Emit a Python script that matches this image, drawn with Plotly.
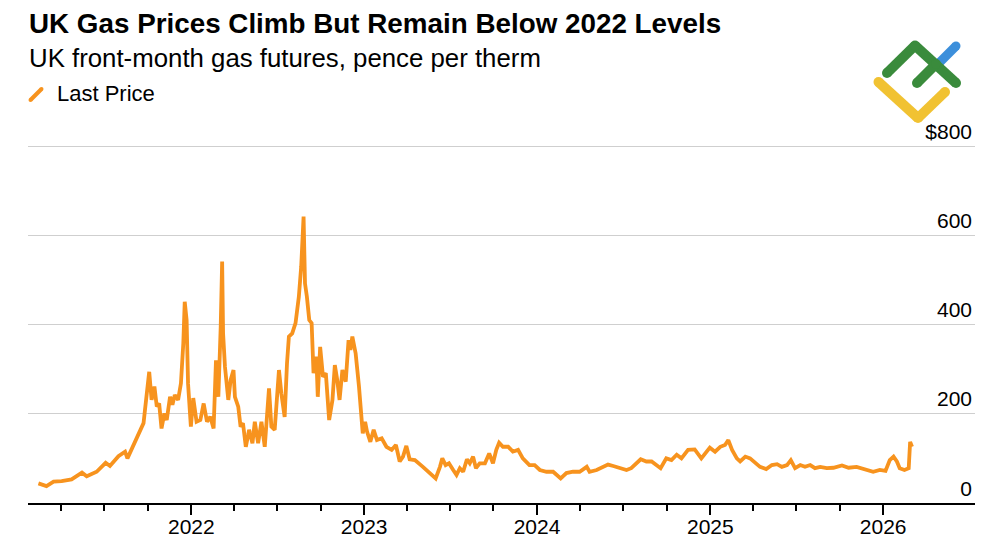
import plotly.graph_objects as go

# ---------------- data ----------------
dates = [
    "2021-02-12", "2021-03-01", "2021-03-16", "2021-04-02", "2021-04-23", "2021-05-15",
    "2021-05-25", "2021-06-15", "2021-07-04", "2021-07-13", "2021-07-31", "2021-08-14",
    "2021-08-19", "2021-09-02", "2021-09-15", "2021-09-22", "2021-09-25", "2021-09-30",
    "2021-10-04", "2021-10-09", "2021-10-15", "2021-10-20", "2021-10-25", "2021-10-30",
    "2021-11-05", "2021-11-10", "2021-11-17", "2021-11-22", "2021-11-27", "2021-12-04",
    "2021-12-10", "2021-12-15", "2021-12-18", "2021-12-22", "2021-12-25", "2021-12-31",
    "2022-01-05", "2022-01-12", "2022-01-20", "2022-01-27", "2022-02-03", "2022-02-10",
    "2022-02-17", "2022-02-22", "2022-02-27", "2022-03-04", "2022-03-07", "2022-03-09",
    "2022-03-13", "2022-03-20", "2022-03-25", "2022-03-31", "2022-04-03", "2022-04-10",
    "2022-04-15", "2022-04-20", "2022-04-26", "2022-05-03", "2022-05-10", "2022-05-15",
    "2022-05-22", "2022-05-29", "2022-06-05", "2022-06-14", "2022-06-19", "2022-06-26",
    "2022-07-05", "2022-07-10", "2022-07-17", "2022-07-22", "2022-07-26", "2022-08-02",
    "2022-08-09", "2022-08-16", "2022-08-21", "2022-08-26", "2022-08-29", "2022-09-02",
    "2022-09-07", "2022-09-12", "2022-09-16", "2022-09-22", "2022-09-25", "2022-09-30",
    "2022-10-06", "2022-10-12", "2022-10-19", "2022-10-26", "2022-10-31", "2022-11-05",
    "2022-11-10", "2022-11-16", "2022-11-23", "2022-11-29", "2022-12-03", "2022-12-07",
    "2022-12-14", "2022-12-21", "2022-12-26", "2022-12-29", "2023-01-03", "2023-01-07",
    "2023-01-14", "2023-01-21", "2023-01-28", "2023-02-07", "2023-02-17", "2023-02-28",
    "2023-03-09", "2023-03-17", "2023-03-24", "2023-03-31", "2023-04-07", "2023-04-18",
    "2023-05-05", "2023-05-20", "2023-06-01", "2023-06-10", "2023-06-15", "2023-06-22",
    "2023-06-29", "2023-07-08", "2023-07-15", "2023-07-22", "2023-07-29", "2023-08-06",
    "2023-08-12", "2023-08-19", "2023-08-25", "2023-09-02", "2023-09-13", "2023-09-22",
    "2023-09-30", "2023-10-07", "2023-10-13", "2023-10-21", "2023-11-01", "2023-11-11",
    "2023-11-22", "2023-12-02", "2023-12-16", "2023-12-27", "2024-01-07", "2024-01-21",
    "2024-02-04", "2024-02-20", "2024-03-03", "2024-03-17", "2024-03-31", "2024-04-15",
    "2024-04-21", "2024-05-06", "2024-05-20", "2024-05-30", "2024-06-10", "2024-06-24",
    "2024-07-08", "2024-07-18", "2024-07-29", "2024-08-07", "2024-08-19", "2024-08-30",
    "2024-09-09", "2024-09-18", "2024-09-30", "2024-10-11", "2024-10-22", "2024-11-01",
    "2024-11-15", "2024-11-29", "2024-12-13", "2024-12-24", "2024-12-31", "2025-01-11",
    "2025-01-22", "2025-02-01", "2025-02-08", "2025-02-16", "2025-02-26", "2025-03-05",
    "2025-03-16", "2025-03-26", "2025-04-06", "2025-04-16", "2025-04-29", "2025-05-11",
    "2025-05-22", "2025-06-01", "2025-06-12", "2025-06-20", "2025-06-29", "2025-07-10",
    "2025-07-20", "2025-07-31", "2025-08-10", "2025-08-21", "2025-09-04", "2025-09-18",
    "2025-10-06", "2025-10-20", "2025-11-06", "2025-11-16", "2025-11-30", "2025-12-11",
    "2025-12-25", "2026-01-06", "2026-01-15", "2026-01-23", "2026-01-30", "2026-02-05",
    "2026-02-15", "2026-02-24", "2026-02-27", "2026-03-03",
]
prices = [
    44, 38, 48, 49, 53, 68,
    60, 70, 90, 83, 105, 115,
    100, 134, 164, 179, 208, 249,
    294, 231, 261, 216, 223, 167,
    201, 186, 238, 220, 242, 231,
    268, 358, 451, 410, 268, 171,
    235, 182, 186, 223, 182, 193,
    167, 320, 238, 395, 541, 380,
    305, 231, 276, 298, 238, 216,
    171, 179, 126, 164, 134, 182,
    134, 182, 126, 257, 171, 164,
    298, 246, 193, 313, 373, 380,
    403, 462, 530, 642, 492, 462,
    410, 403, 291, 328, 238, 350,
    283, 291, 186, 231, 309, 276,
    231, 298, 272, 365, 343, 373,
    335, 261, 201, 156, 182, 160,
    137, 164, 141, 145, 126, 119,
    130, 93, 104, 128, 98, 96,
    81, 67, 55, 81, 100, 85,
    89, 74, 63, 78, 70, 98,
    89, 104, 78, 89, 89, 111,
    89, 119, 135, 126, 126, 115,
    119, 100, 85, 85, 74, 70,
    70, 55, 67, 70, 70, 81,
    70, 74, 81, 86, 83, 79,
    74, 78, 89, 98, 93, 93,
    85, 78, 100, 96, 108, 100,
    119, 120, 100, 115, 124, 115,
    126, 130, 141, 119, 100, 93,
    104, 100, 89, 81, 76, 85,
    87, 81, 85, 96, 78, 85,
    81, 85, 78, 81, 78, 79,
    84, 79, 81, 78, 72, 70,
    74, 72, 96, 104, 93, 78,
    74, 78, 137, 126,
]

year_ticks = ["2022-01-01", "2023-01-01", "2024-01-01", "2025-01-01", "2026-01-01"]
year_labels = ["2022", "2023", "2024", "2025", "2026"]
quarter_ticks = [
    "2021-04-01", "2021-07-01", "2021-10-01",
    "2022-04-01", "2022-07-01", "2022-10-01",
    "2023-04-01", "2023-07-01", "2023-10-01",
    "2024-04-01", "2024-07-01", "2024-10-01",
    "2025-04-01", "2025-07-01", "2025-10-01",
]
y_ticks = [0, 200, 400, 600, 800]
y_labels = ["0", "200", "400", "600", "$800"]
x_range = ["2021-01-21", "2026-07-14"]
y_range = [0, 860.5]

title_text = "UK Gas Prices Climb But Remain Below 2022 Levels"
subtitle_text = "UK front-month gas futures, pence per therm"
series_name = "Last Price"

# ---------------- styling ----------------
ORANGE = "#F7931E"
FONT = "Liberation Sans, Arial, Helvetica, sans-serif"
W, H = 1000, 545
L, R, T, B = 28, 25, 119, 42
PW, PH = W - L - R, H - T - B


def px(X):
    return (X - L) / PW


def py(Y):
    return (H - B - Y) / PH


fig = go.Figure()
fig.add_trace(go.Scatter(
    x=dates, y=prices, mode="lines", name=series_name,
    line=dict(color=ORANGE, width=3.8), showlegend=False,
))

shapes = []


def stroke(points, color, width):
    for (x0, y0), (x1, y1) in zip(points[:-1], points[1:]):
        shapes.append(dict(type="line", xref="paper", yref="paper",
                           x0=px(x0), y0=py(y0), x1=px(x1), y1=py(y1),
                           line=dict(color=color, width=width), layer="above"))
    r = width / 2.0
    for (x, y) in points:
        shapes.append(dict(type="circle", xref="paper", yref="paper",
                           x0=px(x - r), x1=px(x + r), y0=py(y + r), y1=py(y - r),
                           fillcolor=color, line=dict(width=0), layer="above"))


# legend icon
stroke([(30.5, 100), (41.5, 89)], ORANGE, 4)

# logo
BLUE, GREEN, YELLOW = "#3C8FDB", "#3A8B3C", "#F1C232"
stroke([(956, 46), (939, 63)], BLUE, 9)
stroke([(878.5, 82), (918, 118), (945, 92)], YELLOW, 10)
stroke([(887, 73), (915, 45.5), (956, 83)], GREEN, 10)
stroke([(917, 83), (936, 64)], GREEN, 10)

annotations = [
    dict(text="<b>%s</b>" % title_text, x=px(27), y=py(23.5), xref="paper", yref="paper",
         xanchor="left", yanchor="middle", showarrow=False,
         font=dict(family=FONT, size=27.8, color="#000000")),
    dict(text=subtitle_text, x=px(27), y=py(57.5), xref="paper", yref="paper",
         xanchor="left", yanchor="middle", showarrow=False,
         font=dict(family=FONT, size=25.8, color="#000000")),
    dict(text=series_name, x=px(55), y=py(93.5), xref="paper", yref="paper",
         xanchor="left", yanchor="middle", showarrow=False,
         font=dict(family=FONT, size=22, color="#000000")),
]

fig.update_layout(
    width=W, height=H,
    margin=dict(l=L, r=R, t=T, b=B, pad=0, autoexpand=False),
    paper_bgcolor="white", plot_bgcolor="white",
    font=dict(family=FONT, color="#000000"),
    showlegend=False,
    shapes=shapes,
    annotations=annotations,
    xaxis=dict(
        type="date", range=x_range, automargin=False,
        tickmode="array", tickvals=year_ticks, ticktext=year_labels,
        ticks="outside", ticklen=10, tickwidth=1.5, tickcolor="#000000",
        showline=True, linecolor="#000000", linewidth=1.5,
        showgrid=False, zeroline=False,
        ticklabelstandoff=-6,
        tickfont=dict(family=FONT, size=21, color="#000000"),
        minor=dict(tickmode="array", tickvals=quarter_ticks, ticks="outside",
                   ticklen=6, tickwidth=1.5, tickcolor="#000000", showgrid=False),
    ),
    yaxis=dict(
        side="right", range=y_range, automargin=False,
        tickmode="array", tickvals=y_ticks, ticktext=y_labels,
        showgrid=True, gridcolor="#cfcfcf", gridwidth=1,
        zeroline=False, showline=False, ticks="",
        ticklabelposition="inside top",
        tickfont=dict(family=FONT, size=21, color="#000000"),
    ),
)

fig.write_html("out.html", config={"displayModeBar": False},
               post_script="document.body.style.margin='0';")
